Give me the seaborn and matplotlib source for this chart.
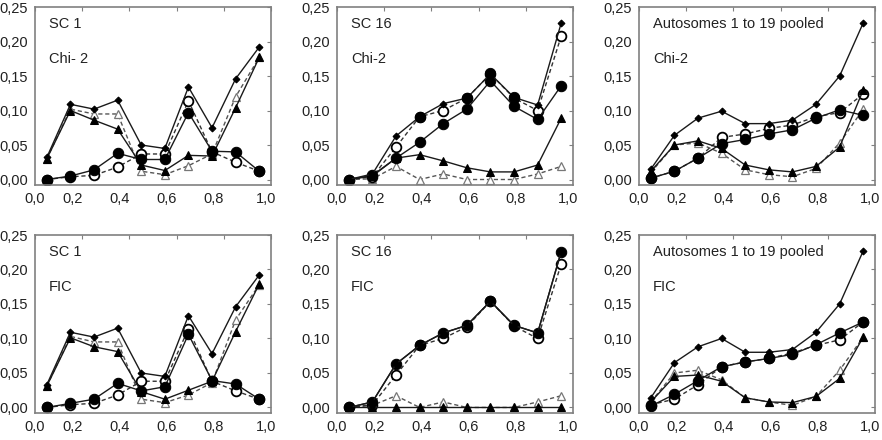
import numpy as np
import matplotlib
matplotlib.use("Agg")
import matplotlib.pyplot as plt
import matplotlib.transforms as mtransforms
import seaborn as sns

sns.set_style("white")
plt.rcParams['font.family'] = ['Liberation Sans', 'DejaVu Sans']

# allele frequency classes (bin centres)
freq_bins = [0.05, 0.15, 0.25, 0.35, 0.45, 0.55, 0.65, 0.75, 0.85, 0.95]

panel_titles = ["SC 1", "SC 16", "Autosomes 1 to 19 pooled",
                "SC 1", "SC 16", "Autosomes 1 to 19 pooled"]
panel_tests = ["Chi- 2", "Chi-2", "Chi-2", "FIC", "FIC", "FIC"]

# one row per panel, in the order of panel_titles
diamond = [
    [0.032, 0.109, 0.102, 0.115, 0.050, 0.045, 0.134, 0.075, 0.146, 0.192],
    [0.000, 0.008, 0.063, 0.091, 0.110, 0.118, 0.153, 0.119, 0.108, 0.227],
    [0.015, 0.064, 0.089, 0.099, 0.081, 0.081, 0.086, 0.109, 0.150, 0.227],
    [0.033, 0.109, 0.102, 0.115, 0.050, 0.045, 0.133, 0.078, 0.146, 0.192],
    [0.000, 0.008, 0.063, 0.090, 0.108, 0.119, 0.154, 0.119, 0.108, 0.226],
    [0.014, 0.065, 0.088, 0.100, 0.080, 0.080, 0.084, 0.109, 0.150, 0.227],
]
filled_circle = [
    [0.000, 0.005, 0.014, 0.038, 0.029, 0.029, 0.097, 0.041, 0.040, 0.012],
    [0.000, 0.006, 0.031, 0.054, 0.081, 0.102, 0.143, 0.106, 0.087, 0.136],
    [0.002, 0.012, 0.031, 0.052, 0.058, 0.066, 0.072, 0.089, 0.101, 0.093],
    [0.000, 0.006, 0.012, 0.035, 0.024, 0.030, 0.106, 0.039, 0.034, 0.012],
    [0.000, 0.008, 0.063, 0.090, 0.108, 0.119, 0.154, 0.119, 0.108, 0.226],
    [0.002, 0.019, 0.039, 0.059, 0.066, 0.071, 0.077, 0.091, 0.108, 0.124],
]
open_circle = [
    [0.000, 0.004, 0.006, 0.018, 0.037, 0.037, 0.114, 0.040, 0.025, 0.012],
    [0.000, 0.004, 0.047, 0.091, 0.100, 0.118, 0.153, 0.118, 0.100, 0.208],
    [0.002, 0.012, 0.031, 0.061, 0.066, 0.074, 0.079, 0.091, 0.097, 0.124],
    [0.000, 0.004, 0.006, 0.018, 0.038, 0.038, 0.114, 0.038, 0.024, 0.012],
    [0.000, 0.004, 0.047, 0.090, 0.100, 0.117, 0.154, 0.118, 0.100, 0.208],
    [0.004, 0.012, 0.033, 0.059, 0.066, 0.071, 0.079, 0.090, 0.098, 0.124],
]
filled_triangle = [
    [0.030, 0.100, 0.086, 0.073, 0.021, 0.013, 0.035, 0.034, 0.104, 0.177],
    [0.000, 0.005, 0.031, 0.036, 0.027, 0.017, 0.011, 0.011, 0.021, 0.089],
    [0.012, 0.050, 0.056, 0.045, 0.021, 0.014, 0.011, 0.019, 0.047, 0.130],
    [0.031, 0.101, 0.088, 0.081, 0.023, 0.012, 0.025, 0.038, 0.110, 0.179],
    [0.000, 0.000, 0.000, 0.000, 0.000, 0.000, 0.000, 0.000, 0.000, 0.000],
    [0.008, 0.045, 0.047, 0.038, 0.014, 0.008, 0.007, 0.016, 0.042, 0.102],
]
open_triangle = [
    [0.030, 0.102, 0.095, 0.095, 0.012, 0.007, 0.020, 0.037, 0.120, 0.177],
    [0.000, 0.001, 0.019, 0.000, 0.008, 0.000, 0.000, 0.000, 0.008, 0.019],
    [0.010, 0.050, 0.053, 0.038, 0.014, 0.007, 0.004, 0.016, 0.053, 0.102],
    [0.031, 0.103, 0.095, 0.095, 0.012, 0.007, 0.018, 0.036, 0.127, 0.178],
    [0.000, 0.003, 0.017, 0.000, 0.008, 0.000, 0.000, 0.000, 0.008, 0.017],
    [0.008, 0.050, 0.054, 0.040, 0.014, 0.008, 0.003, 0.016, 0.054, 0.102],
]
# extra filled circles sitting on the upper curve of SC 16 / Chi-2
sc16_chi_upper_circles = [np.nan, np.nan, np.nan, 0.091, np.nan, 0.118, 0.155, 0.119, np.nan, np.nan]

x_ticks = [0.0, 0.2, 0.4, 0.6, 0.8, 1.0]
x_ticklabels = ["0,0", "0,2", "0,4", "0,6", "0,8", "1,0"]
y_ticks = [0.0, 0.05, 0.10, 0.15, 0.20, 0.25]
y_ticklabels = ["0,00", "0,05", "0,10", "0,15", "0,20", "0,25"]

fig = plt.figure(figsize=(8.82, 4.4), dpi=100)

lefts = [0.0397, 0.3821, 0.7245]
bottoms = [0.5795, 0.0614]
w, h = 0.2676, 0.4045

solid = dict(color="#1a1a1a", linewidth=1.0)
dashed = dict(color="#333333", linewidth=1.0, linestyle=(0, (3, 2)))

for i in range(6):
    ax = fig.add_axes([lefts[i % 3], bottoms[i // 3], w, h])

    # dashed series first, so the filled ones sit on top
    sns.lineplot(x=freq_bins, y=open_triangle[i], ax=ax, marker="^", markersize=6,
                 markerfacecolor="white", markeredgecolor="#777777", markeredgewidth=0.9,
                 **dict(dashed, color="#555555"))
    sns.lineplot(x=freq_bins, y=open_circle[i], ax=ax, marker="o", markersize=7,
                 markerfacecolor="white", markeredgecolor="black", markeredgewidth=1.3,
                 **dashed)
    sns.lineplot(x=freq_bins, y=filled_triangle[i], ax=ax, marker="^", markersize=5.5,
                 markerfacecolor="black", markeredgecolor="black", **solid)
    sns.lineplot(x=freq_bins, y=filled_circle[i], ax=ax, marker="o", markersize=7.5,
                 markerfacecolor="black", markeredgecolor="black", **solid)
    sns.lineplot(x=freq_bins, y=diamond[i], ax=ax, marker="D", markersize=3.5,
                 markerfacecolor="black", markeredgecolor="black", **solid)
    if i == 1:
        sns.scatterplot(x=freq_bins, y=sc16_chi_upper_circles, ax=ax, marker="o",
                        s=56, color="black", edgecolor="black", zorder=5)

    ax.set_xlim(0, 1.0)
    ax.set_ylim(-0.008, 0.25)
    ax.set_xticks(x_ticks)
    ax.set_xticklabels(x_ticklabels)
    ax.set_yticks(y_ticks)
    ax.set_yticklabels(y_ticklabels)
    ax.set_xlabel("")
    ax.set_ylabel("")

    ax.tick_params(axis="both", which="both", labelsize=10.5, colors="#222222",
                   length=3, width=0.8, pad=2, direction="out")
    ax.tick_params(axis="both", colors="#808080", labelcolor="#222222")
    ax.tick_params(top=True, right=True)
    for t in ax.xaxis.get_major_ticks():
        t.tick2line.set_marker(3)  # inward tick on top spine
    for t in ax.yaxis.get_major_ticks():
        t.tick2line.set_marker(0)  # inward tick on right spine

    for s in ax.spines.values():
        s.set_color("#808080")
        s.set_linewidth(1.2)
        s.set_visible(True)

    # the printed x labels sit a little left of their ticks
    labels = ax.get_xticklabels()
    for k, lab in enumerate(labels):
        dx = 0 if k == 0 else (-5 if k == len(labels) - 1 else -10)
        shift = mtransforms.ScaledTranslation(dx / 100, 0, fig.dpi_scale_trans)
        lab.set_transform(lab.get_transform() + shift)

    ax.text(0.06, 0.905, panel_titles[i], transform=ax.transAxes,
            fontsize=10.5, va="center", ha="left", color="#222222")
    ax.text(0.06, 0.71, panel_tests[i], transform=ax.transAxes,
            fontsize=10.5, va="center", ha="left", color="#222222")

fig.savefig("out.png", dpi=100)
